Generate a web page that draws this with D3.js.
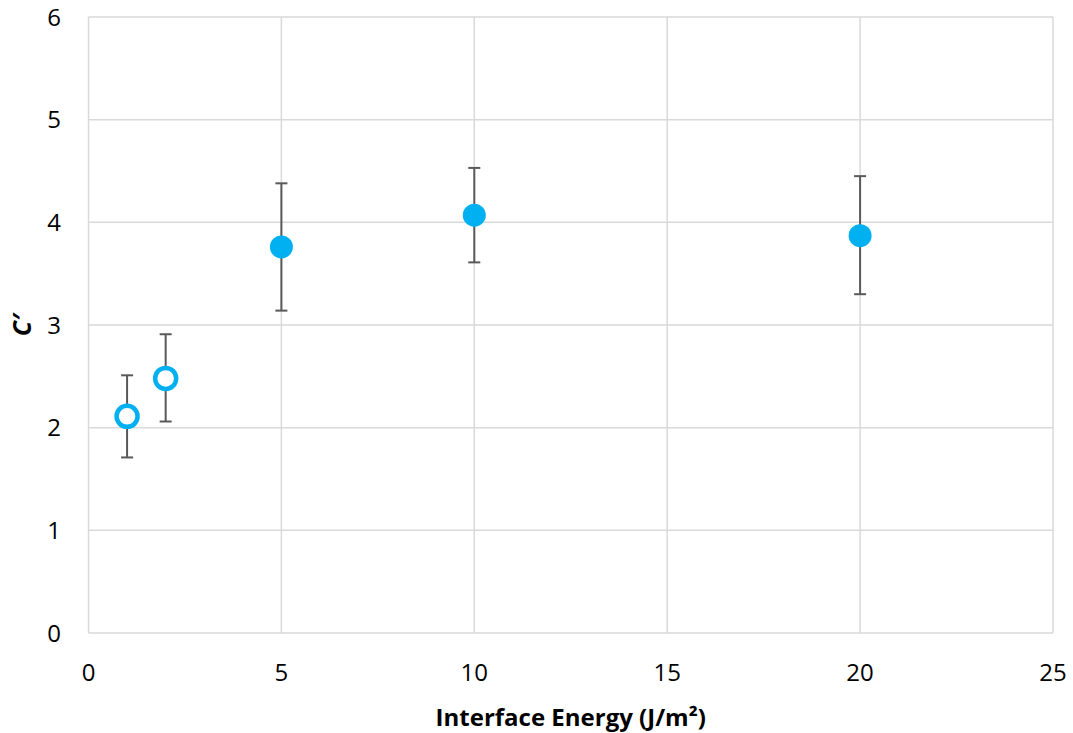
<!DOCTYPE html>
<html>
<head>
<meta charset="utf-8">
<script src="https://cdn.jsdelivr.net/npm/d3@7"></script>
<style>
  body { margin: 0; background: #fff; }
  svg text { font-family: "Open Sans", "Liberation Sans", sans-serif; fill: #000; }
</style>
</head>
<body>
<div id="chart"></div>
<script>
// interface energy (J/m2), C' mean, error bar ends, marker style
var energy = [1, 2, 5, 10, 20];
var cValue = [2.11, 2.48, 3.76, 4.07, 3.87];
var errLow = [1.71, 2.06, 3.14, 3.61, 3.30];
var errHigh = [2.51, 2.91, 4.38, 4.53, 4.45];
var hollow = [true, true, false, false, false];

var xTicks = [0, 5, 10, 15, 20, 25];
var yTicks = [0, 1, 2, 3, 4, 5, 6];

var width = 1073, height = 733;
var margin = {top: 17, right: 20, bottom: 100, left: 88.5};

var svg = d3.select("#chart").append("svg")
  .attr("width", width)
  .attr("height", height);

var x = d3.scaleLinear().domain([0, 25]).range([margin.left, width - margin.right]);
var y = d3.scaleLinear().domain([0, 6]).range([height - margin.bottom, margin.top]);

var blue = "#00b0f0";
var gridColor = "#d9d9d9";

// grid
svg.append("g").selectAll("line.hgrid")
  .data(yTicks).enter().append("line")
  .attr("x1", x(0)).attr("x2", x(25))
  .attr("y1", d => y(d)).attr("y2", d => y(d))
  .attr("stroke", gridColor).attr("stroke-width", 1.5);

svg.append("g").selectAll("line.vgrid")
  .data(xTicks).enter().append("line")
  .attr("y1", y(0)).attr("y2", y(6))
  .attr("x1", d => x(d)).attr("x2", d => x(d))
  .attr("stroke", gridColor).attr("stroke-width", 1.5);

// tick labels
svg.append("g").selectAll("text")
  .data(yTicks).enter().append("text")
  .attr("x", 61).attr("y", d => y(d))
  .attr("dy", "0.36em")
  .attr("text-anchor", "end")
  .style("font-size", "24px")
  .text(d => d);

svg.append("g").selectAll("text")
  .data(xTicks).enter().append("text")
  .attr("x", d => x(d)).attr("y", 672)
  .attr("dy", "0.36em")
  .attr("text-anchor", "middle")
  .style("font-size", "24px")
  .text(d => d);

// axis titles
svg.append("text")
  .attr("x", x(12.5)).attr("y", 717)
  .attr("dy", "0.36em")
  .attr("text-anchor", "middle")
  .style("font-size", "24px").style("font-weight", "bold")
  .text("Interface Energy (J/m\u00b2)");

svg.append("text")
  .attr("transform", "translate(22," + y(3) + ") rotate(-90)")
  .attr("dy", "0.36em")
  .attr("text-anchor", "middle")
  .style("font-size", "25px").style("font-weight", "bold").style("font-style", "italic")
  .text("C\u2032");

// error bars
var pts = energy.map((e, i) => ({x: e, y: cValue[i], lo: errLow[i], hi: errHigh[i], hollow: hollow[i]}));

var eb = svg.append("g").selectAll("g.err").data(pts).enter().append("g")
  .attr("stroke", "#595959").attr("stroke-width", 2);

eb.append("line")
  .attr("x1", d => x(d.x)).attr("x2", d => x(d.x))
  .attr("y1", d => y(d.lo)).attr("y2", d => y(d.hi));
eb.append("line")
  .attr("x1", d => x(d.x) - 6).attr("x2", d => x(d.x) + 6)
  .attr("y1", d => y(d.lo)).attr("y2", d => y(d.lo));
eb.append("line")
  .attr("x1", d => x(d.x) - 6).attr("x2", d => x(d.x) + 6)
  .attr("y1", d => y(d.hi)).attr("y2", d => y(d.hi));

// markers
svg.append("g").selectAll("circle").data(pts).enter().append("circle")
  .attr("cx", d => x(d.x)).attr("cy", d => y(d.y))
  .attr("r", d => d.hollow ? 10.5 : 11.5)
  .attr("fill", d => d.hollow ? "#fff" : blue)
  .attr("stroke", d => d.hollow ? blue : "none")
  .attr("stroke-width", 4.5);
</script>
</body>
</html>
